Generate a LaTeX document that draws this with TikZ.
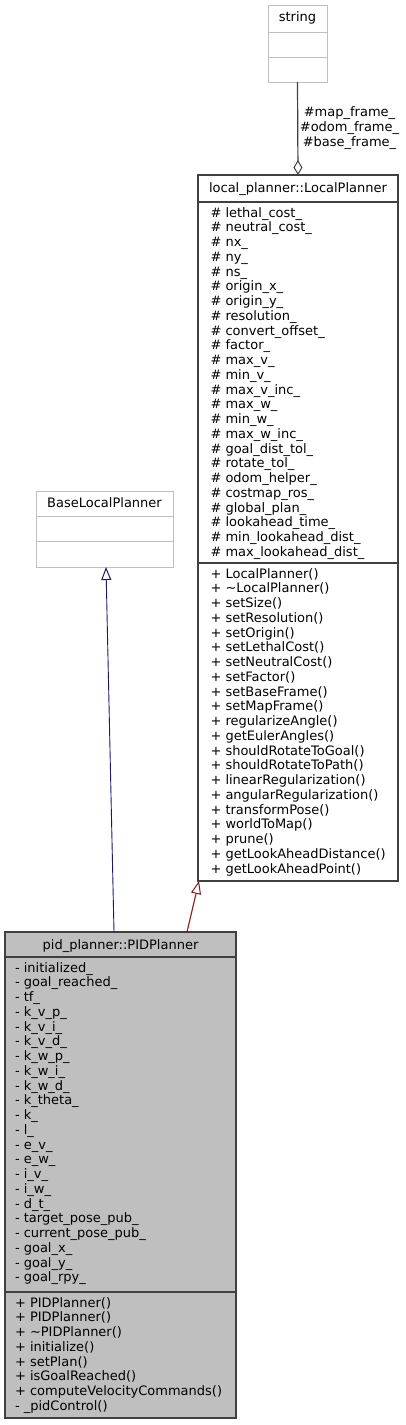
\documentclass[tikz,border=0pt]{standalone}
\usepackage{fontspec}
\setmainfont{DejaVu Sans}
\usetikzlibrary{arrows.meta,calc}
\definecolor{edgegray}{HTML}{404040}
\definecolor{lightborder}{HTML}{BFBFBF}
\definecolor{pidfill}{HTML}{BFBFBF}
\definecolor{inhblue}{HTML}{191970}
\definecolor{inhred}{HTML}{8B1A1A}
\begin{document}
\begin{tikzpicture}[x=1pt,y=-1pt,
  txt/.style={inner sep=0pt, outer sep=0pt, font=\fontsize{13}{14.75}\selectfont, text=black},
  darkbox/.style={draw=edgegray, line width=1.6pt, inner sep=0pt, outer sep=0pt, anchor=north west},
  lightbox/.style={draw=lightborder, line width=1pt, fill=white, inner sep=0pt, outer sep=0pt, anchor=north west},
  darksep/.style={draw=edgegray, line width=1.6pt},
  lightsep/.style={draw=lightborder, line width=1pt},
  usage/.style={draw=edgegray, line width=1.2pt, {Diamond[open,fill=white,length=15pt,width=9pt,line width=1pt]}-},
  inhb/.style={draw=inhblue, line width=0.9pt, -{Triangle[open,fill=white,length=13pt,width=10pt,line width=1pt]}},
  inhr/.style={draw=inhred, line width=1.1pt, -{Triangle[open,fill=white,length=13pt,width=10pt,line width=1pt]}}
]
\fill[white] (0,0) rectangle (405,1425);
\useasboundingbox (0,0) rectangle (405,1425);

% string
\node[lightbox, minimum width=59pt, minimum height=77pt] (str) at (268,5) {};
\draw[lightsep] ($(str.north west)+(0,27)$) -- ($(str.north east)+(0,27)$);
\draw[lightsep] ($(str.north west)+(0,52)$) -- ($(str.north east)+(0,52)$);
\node[txt, anchor=base] (strt) at ($(str.north)+(0,16.7)$) {string};

% BaseLocalPlanner
\node[lightbox, minimum width=137pt, minimum height=76pt] (base) at (36,491) {};
\draw[lightsep] ($(base.north west)+(0,25)$) -- ($(base.north east)+(0,25)$);
\draw[lightsep] ($(base.north west)+(0,50)$) -- ($(base.north east)+(0,50)$);
\node[txt, anchor=base] (baset) at ($(base.north)+(0,16)$) {BaseLocalPlanner};

% LocalPlanner
\node[darkbox, fill=white, minimum width=200pt, minimum height=706pt] (lp) at (198,175) {};
\draw[darksep] ($(lp.north west)+(0,27)$) -- ($(lp.north east)+(0,27)$);
\draw[darksep] ($(lp.north west)+(0,388)$) -- ($(lp.north east)+(0,388)$);
\node[txt, anchor=base] (lpt) at ($(lp.north)+(0,17)$) {local\_planner::LocalPlanner};
\foreach \t [count=\i from 0] in {lethal\_cost\_, neutral\_cost\_, nx\_, ny\_, ns\_, origin\_x\_, origin\_y\_, resolution\_, convert\_offset\_, factor\_, max\_v\_, min\_v\_, max\_v\_inc\_, max\_w\_, min\_w\_, max\_w\_inc\_, goal\_dist\_tol\_, rotate\_tol\_, odom\_helper\_, costmap\_ros\_, global\_plan\_, lookahead\_time\_, min\_lookahead\_dist\_, max\_lookahead\_dist\_}
  \node[txt, anchor=base west] (lpa\i) at (210.5, 217+\i*14.75) {\# \t};
\foreach \t [count=\i from 0] in {LocalPlanner(), \textasciitilde LocalPlanner(), setSize(), setResolution(), setOrigin(), setLethalCost(), setNeutralCost(), setFactor(), setBaseFrame(), setMapFrame(), regularizeAngle(), getEulerAngles(), shouldRotateToGoal(), shouldRotateToPath(), linearRegularization(), angularRegularization(), transformPose(), worldToMap(), prune(), getLookAheadDistance(), getLookAheadPoint()}
  \node[txt, anchor=base west] (lpm\i) at (210.5, 578+\i*14.75) {+ \t};

% PIDPlanner
\node[darkbox, fill=pidfill, minimum width=231pt, minimum height=486pt] (pid) at (5,932) {};
\draw[darksep] ($(pid.north west)+(0,25)$) -- ($(pid.north east)+(0,25)$);
\draw[darksep] ($(pid.north west)+(0,360)$) -- ($(pid.north east)+(0,360)$);
\node[txt, anchor=base] (pidt) at ($(pid.north)+(0,17)$) {pid\_planner::PIDPlanner};
\foreach \t [count=\i from 0] in {initialized\_, goal\_reached\_, tf\_, k\_v\_p\_, k\_v\_i\_, k\_v\_d\_, k\_w\_p\_, k\_w\_i\_, k\_w\_d\_, k\_theta\_, k\_, l\_, e\_v\_, e\_w\_, i\_v\_, i\_w\_, d\_t\_, target\_pose\_pub\_, current\_pose\_pub\_, goal\_x\_, goal\_y\_, goal\_rpy\_}
  \node[txt, anchor=base west] (pida\i) at (15, 972+\i*14.75) {- \t};
\foreach \t [count=\i from 0] in {+ PIDPlanner(), + PIDPlanner(), + \textasciitilde PIDPlanner(), + initialize(), + setPlan(), + isGoalReached(), + computeVelocityCommands(), - \_pidControl()}
  \node[txt, anchor=base west] (pidm\i) at (15, 1307+\i*14.75) {\t};

% connectors
\draw[usage] (lp.north) -- (str.south);
\node[txt, align=center] (lbl) at (349.5,128) {\#map\_frame\_\\\#odom\_frame\_\\\#base\_frame\_};
\draw[inhb] ([xshift=-6.5pt]pid.north) -- ([xshift=1.5pt]base.south);
\draw[inhr] ([xshift=66.5pt]pid.north) -- ([xshift=1pt]lp.south west);
\end{tikzpicture}
\end{document}
